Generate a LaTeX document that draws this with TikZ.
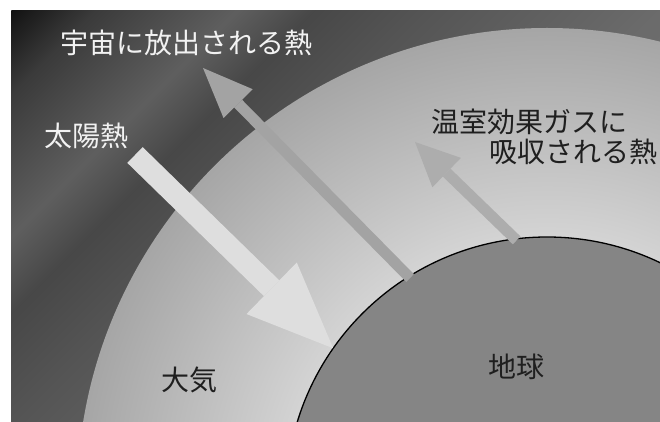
\documentclass[tikz,border=0pt]{standalone}
\usepackage{fontspec}
\setmainfont{Noto Sans CJK JP}
\usepackage{tikz}
\usetikzlibrary{arrows.meta}
\definecolor{sky0}{gray}{0.07}
\definecolor{sky1}{gray}{0.23}
\definecolor{sky2}{gray}{0.37}
\definecolor{sky3}{gray}{0.28}
\definecolor{sky4}{gray}{0.33}
\definecolor{sky5}{gray}{0.42}
\definecolor{sky6}{gray}{0.45}
\definecolor{airin}{gray}{0.86}
\definecolor{airmid}{gray}{0.83}
\definecolor{airout}{gray}{0.65}
\definecolor{ground}{gray}{0.52}
\definecolor{sunheat}{gray}{0.87}
\definecolor{outheat}{gray}{0.64}
\definecolor{trapheat}{gray}{0.68}
\definecolor{lightlbl}{gray}{0.95}
\definecolor{darklbl}{gray}{0.12}
\pgfdeclarehorizontalshading{sky}{100bp}{color(0bp)=(sky0); color(25bp)=(sky0); color(28.9bp)=(sky1); color(35.5bp)=(sky2); color(39.1bp)=(sky3); color(44.1bp)=(sky4); color(55.3bp)=(sky5); color(75bp)=(sky6); color(100bp)=(sky6)}
\pgfdeclareradialshading{air}{\pgfpointorigin}{color(0bp)=(airin); color(13.9bp)=(airmid); color(25bp)=(airout); color(50bp)=(airout)}

\begin{document}
\begin{tikzpicture}[x=1pt,y=-1pt,
  lbl/.style={font=\fontsize{28}{32}\selectfont, inner sep=0pt},
  sunray/.style={draw=sunheat, line width=22pt, -{Triangle[length=86pt, width=72pt, line width=0pt]}},
  upray/.style={line width=11pt, -{Triangle[length=#1, width=41pt, line width=0pt]}}]
\useasboundingbox (0,0) rectangle (660,422);
\fill[white] (0,0) rectangle (660,422);
\begin{scope}
\clip (11,11) rectangle (660,422);
\shade[shading=sky, transform canvas={shift={(11,11)}, rotate=-45}] (0,-500) rectangle (760,500);
\node[circle, inner sep=0pt, outer sep=0pt, minimum size=940pt, shading=air] (atmos) at (547,498) {};
\node[circle, inner sep=0pt, outer sep=0pt, minimum size=522pt, fill=ground, draw=black, line width=1.3pt] (earth) at (547,498) {};
\coordinate (sunTail) at (135,155);
\coordinate (spaceTip) at (203,68);
\coordinate (trapTip) at (415,142);
\draw[sunray] (sunTail) -- (earth.145.6);
\draw[upray=50pt, draw=outheat, shorten <=-2pt] (earth.122.5) -- (spaceTip);
\draw[upray=44pt, draw=trapheat, shorten <=-2pt] (earth.97.5) -- (trapTip);
\node[lbl, text=lightlbl, anchor=west] (spaceLabel) at (60,43) {宇宙に放出される熱};
\node[lbl, text=lightlbl, anchor=west] (sunLabel) at (44,136) {太陽熱};
\node[lbl, text=darklbl, anchor=west] (trapLabel) at (431,122) {温室効果ガスに};
\node[lbl, text=darklbl, anchor=west] (trapLabelB) at (489,152) {吸収される熱};
\node[lbl, text=darklbl] (atmosLabel) at (189,380) {大気};
\node[lbl, text=darklbl] (earthLabel) at (516,367) {地球};
\end{scope}
\end{tikzpicture}
\end{document}
